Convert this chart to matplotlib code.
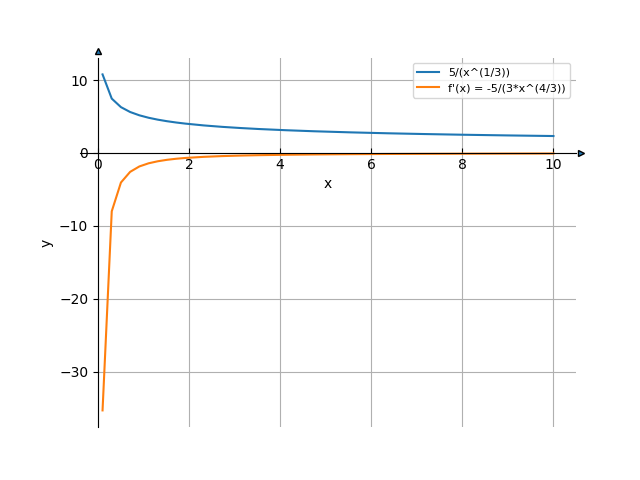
import matplotlib
matplotlib.use('Agg')
import matplotlib.pyplot as plt

# sample points
x = [0.1, 0.302, 0.504, 0.706, 0.908, 1.110, 1.312, 1.514, 1.716, 1.918,
     2.322, 2.727, 3.131, 3.535, 4.141, 4.747, 5.555, 6.363, 7.171, 7.980,
     8.990, 10.0]
f = [10.772, 7.452, 6.283, 5.615, 5.163, 4.829, 4.567, 4.354, 4.176, 4.024,
     3.776, 3.579, 3.418, 3.282, 3.114, 2.975, 2.823, 2.698, 2.593, 2.502,
     2.405, 2.321]
df = [-35.3, -8.0, -4.05, -2.59, -1.85, -1.42, -1.14, -0.94, -0.795, -0.685,
      -0.532, -0.429, -0.357, -0.303, -0.246, -0.205, -0.166, -0.138, -0.119, -0.103,
      -0.087, -0.076]

labels = ["5/(x^(1/3))", "f'(x) = -5/(3*x^(4/3))"]

fig, ax = plt.subplots(figsize=(6.4, 4.8), dpi=100)
ax.plot(x, f, label=labels[0])
ax.plot(x, df, label=labels[1])
xlo, xhi = ax.get_xlim()
ylo, yhi = ax.get_ylim()

ax.spines['left'].set_position('zero')
ax.spines['bottom'].set_position('zero')
ax.spines['right'].set_color('none')
ax.spines['top'].set_color('none')
ax.xaxis.set_ticks_position('bottom')
ax.yaxis.set_ticks_position('left')
ax.tick_params(axis='x', direction='in')

# arrows at the ends of the axes
ax.plot(1.011, 0, '>', color='#1f77b4', mec='k', ms=4.5,
        transform=ax.get_yaxis_transform(), clip_on=False)
ax.plot(0, 1.017, '^', color='#1f77b4', mec='k', ms=4.5,
        transform=ax.get_xaxis_transform(), clip_on=False)

ax.set_xlabel('x')
ax.set_ylabel('y')
ax.legend(fontsize=8, loc='upper right')

# grid: vertical over full height, horizontal only right of the y axis
ax.grid(True, axis='x')
yt = [t for t in ax.get_yticks() if ylo <= t <= yhi]
ax.hlines(yt, 0, xhi, colors='#b0b0b0', linewidth=0.8, zorder=0.5)
ax.set_xlim(xlo, xhi)
ax.set_ylim(ylo, yhi)

fig.savefig('out.png')
